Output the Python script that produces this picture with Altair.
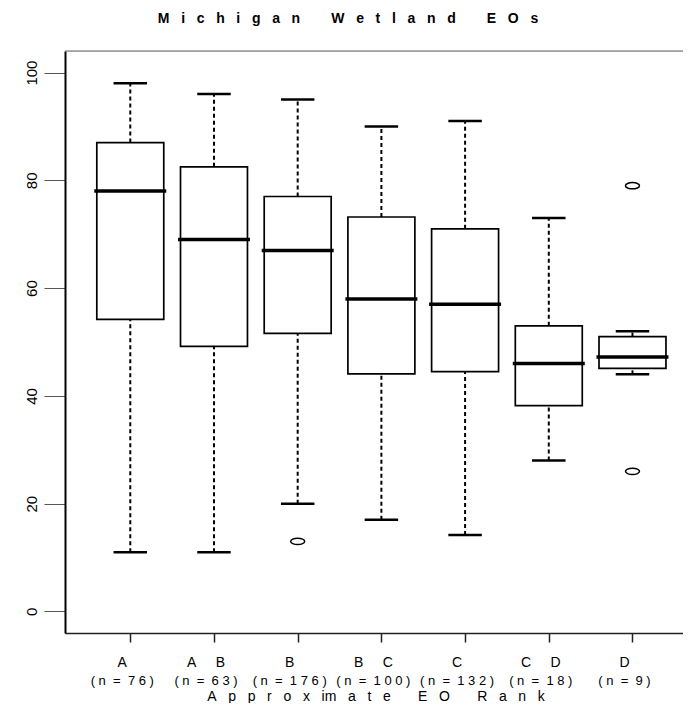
import altair as alt
import pandas as pd

# ---- data ----
cats = ["A", "A B", "B", "B C", "C", "C D", "D"]
n_obs = [76, 63, 176, 100, 132, 18, 9]
whisk_lo = [11, 11, 20, 17, 14.2, 28, 44]
q1 = [54.2, 49.2, 51.6, 44.1, 44.5, 38.2, 45.1]
median = [78, 69, 67, 58, 57, 46, 47.2]
q3 = [87, 82.5, 77, 73.2, 71, 53, 51]
whisk_hi = [98, 96, 95, 90, 91, 73, 52]
out_cats = ["B", "D", "D"]
out_vals = [13, 79, 26]
y_ticks = [0, 20, 40, 60, 80, 100]

title_words = ["Michigan", "Wetland", "EOs"]
xlab_words = ["Approximate", "EO", "Rank"]

NB = "\u00a0"


def spread(words, gap, wgap, keep=()):
    out = []
    for w in words:
        s = ""
        for i, ch in enumerate(w):
            s += ch
            if i < len(w) - 1 and (w[i:i + 2] not in keep):
                s += NB * gap
        out.append(s)
    return (NB * wgap).join(out)


title_text = spread(title_words, 3, 8)
xlab_text = spread(xlab_words, 3, 7, keep=("im",))

pos = list(range(1, len(cats) + 1))
df = pd.DataFrame({
    "pos": pos, "n": n_obs,
    "lo": whisk_lo, "q1": q1, "med": median, "q3": q3, "hi": whisk_hi,
})
df["cat"] = [c.replace(" ", NB * 5) for c in cats]
df["nlab"] = ["(" + NB * 1 + "n" + NB * 2 + "=" + NB * 2 + NB.join(str(v)) + NB + ")" for v in n_obs]
odf = pd.DataFrame({"cat": out_cats, "val": out_vals})
odf["pos"] = [cats.index(c) + 1 for c in out_cats]

FONT = "Liberation Sans"
W, H = 618, 582
xs = alt.Scale(domain=[0.22, 0.22 + W / 83.7], nice=False, zero=False)
ys = alt.Scale(domain=[-4, 104], nice=False, zero=False)

xaxis = alt.Axis(values=pos, labels=False, ticks=True, tickSize=9, title=None,
                 grid=False, domainColor="#222222", tickColor="#222222",
                 domainWidth=1.5, tickWidth=1.5)
yaxis = alt.Axis(values=y_ticks, labelAngle=-90, tickSize=21, title=None, grid=False,
                 domainColor="#000000", domainWidth=2, tickColor="#555555", tickWidth=1,
                 labelFont=FONT, labelFontSize=15, labelColor="#000000", labelPadding=5)

base = alt.Chart(df).transform_calculate(
    xl="datum.pos - 0.4", xr="datum.pos + 0.4",
    cl="datum.pos - 0.2", cr="datum.pos + 0.2",
    ml="datum.pos - 0.43", mr="datum.pos + 0.43",
)

whisk_up = base.mark_rule(color="black", strokeWidth=2, strokeDash=[4, 3]).encode(
    x=alt.X("pos:Q", scale=xs, axis=xaxis),
    y=alt.Y("q3:Q", scale=ys, axis=yaxis),
    y2="hi:Q",
)
whisk_dn = base.mark_rule(color="black", strokeWidth=2, strokeDash=[4, 3]).encode(
    x=alt.X("pos:Q", scale=xs, axis=xaxis),
    y=alt.Y("lo:Q", scale=ys, axis=yaxis),
    y2="q1:Q",
)
cap_hi = base.mark_rule(color="black", strokeWidth=2.5).encode(
    x=alt.X("cl:Q", scale=xs, axis=xaxis), x2="cr:Q",
    y=alt.Y("hi:Q", scale=ys, axis=yaxis),
)
cap_lo = base.mark_rule(color="black", strokeWidth=2.5).encode(
    x=alt.X("cl:Q", scale=xs, axis=xaxis), x2="cr:Q",
    y=alt.Y("lo:Q", scale=ys, axis=yaxis),
)
box = base.mark_rect(fill="white", stroke="black", strokeWidth=1.7).encode(
    x=alt.X("xl:Q", scale=xs, axis=xaxis), x2="xr:Q",
    y=alt.Y("q1:Q", scale=ys, axis=yaxis), y2="q3:Q",
)
med = base.mark_rule(color="black", strokeWidth=3.5).encode(
    x=alt.X("ml:Q", scale=xs, axis=xaxis), x2="mr:Q",
    y=alt.Y("med:Q", scale=ys, axis=yaxis),
)
outl = alt.Chart(odf).mark_point(
    shape="M -1 0 A 1 0.45 0 1 0 1 0 A 1 0.45 0 1 0 -1 0 Z",
    filled=False, color="black", strokeWidth=1.5, size=196, opacity=1,
).encode(
    x=alt.X("pos:Q", scale=xs, axis=xaxis),
    y=alt.Y("val:Q", scale=ys, axis=yaxis),
)

top_line = base.mark_rule(color="#666666", strokeWidth=1).encode(
    x=alt.value(0), x2=alt.value(W), y=alt.value(0)
).transform_filter("datum.pos == 1")

lab1 = base.mark_text(font=FONT, fontSize=14, baseline="middle", dx=-8, color="black").encode(
    x=alt.X("pos:Q", scale=xs, axis=xaxis), y=alt.value(612), text="cat:N"
)
lab2 = base.mark_text(font=FONT, fontSize=13, baseline="middle", dx=-8, color="black").encode(
    x=alt.X("pos:Q", scale=xs, axis=xaxis), y=alt.value(630), text="nlab:N"
)
xtitle = base.mark_text(font=FONT, fontSize=14, baseline="middle", color="black", text=xlab_text).encode(
    x=alt.value(311), y=alt.value(646)
).transform_filter("datum.pos == 1")
ttl = base.mark_text(font=FONT, fontSize=14, fontWeight="bold", baseline="middle",
                     color="black", text=title_text).encode(
    x=alt.value(283), y=alt.value(-32)
).transform_filter("datum.pos == 1")

chart = alt.layer(
    whisk_up, whisk_dn, cap_hi, cap_lo, box, med, outl, top_line, lab1, lab2, xtitle, ttl
).properties(
    width=W, height=H,
    autosize=alt.AutoSizeParams(type="none"),
    padding={"left": 57, "top": 43, "right": 0, "bottom": 70},
).configure_view(stroke=None).configure(background="white")

chart.save("out.html", embed_options={"renderer": "svg", "actions": False})
